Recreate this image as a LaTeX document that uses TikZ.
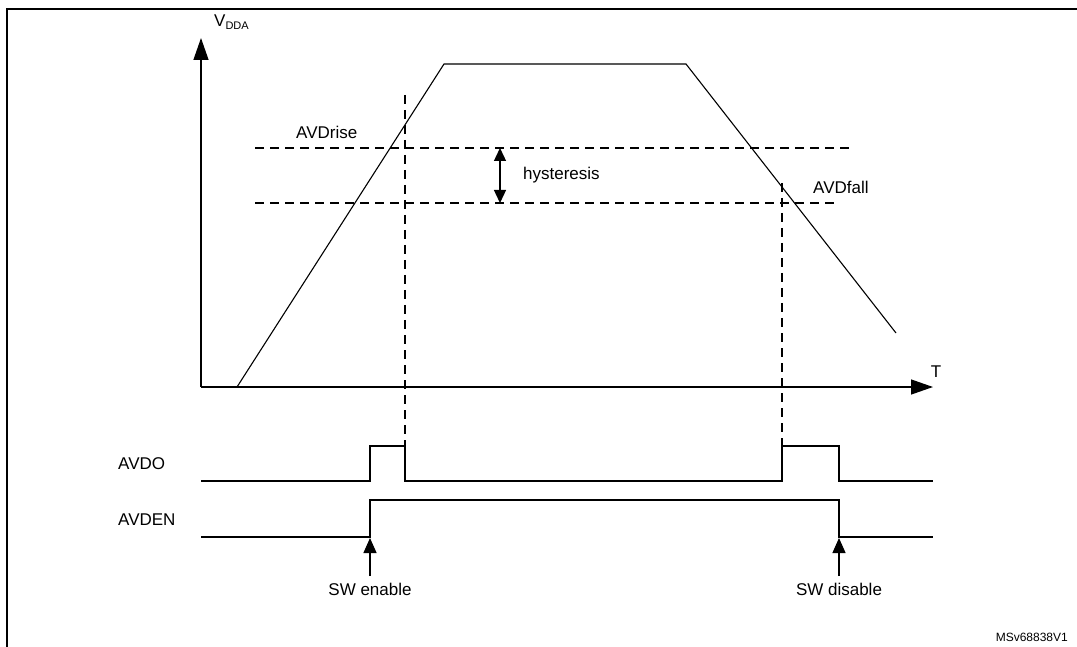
\documentclass[tikz,border=0pt]{standalone}
\usepackage{fontspec}
\setmainfont{Liberation Sans}
\usetikzlibrary{arrows.meta}
\tikzset{
  sig/.style={line width=1.3pt},
  level/.style={dashed, dash pattern=on 9pt off 6pt, line width=1.1pt},
  lbl/.style={font=\fontsize{17}{20}\selectfont, inner sep=0pt},
  tip/.style={-{Triangle[length=22pt,width=15pt]}, line width=1.3pt}
}
\begin{document}
\begin{tikzpicture}[x=1pt,y=-1pt]
    \useasboundingbox (0,0) rectangle (1077,647);
    % Frame
    \draw[line width=1.6pt] (7,700) -- (7,9) -- (1080,9);

    % Axes
    \coordinate (o) at (201,387);
    \coordinate (ytop) at (201,38);
    \coordinate (xend) at (933,387);
    \draw[tip] (o) -- (ytop);
    \draw[tip] (o) -- (xend);
    \node[lbl, anchor=west] (vdda) at (214,22) {V\textsubscript{\fontsize{11}{12}\selectfont DDA}};
    \node[lbl, anchor=south] (t) at (936,378) {T};

    % Supply ramp
    \draw[line width=1.1pt] (237,387) -- (444,64) -- (686,64) -- (896,333);

    % Thresholds
    \draw[level] (255,148) -- (850,148);
    \draw[level] (255,203) -- (835,203);
    \node[lbl, anchor=south west] (rise) at (296,139) {AVDrise};
    \node[lbl, anchor=south west] (fall) at (813,194) {AVDfall};
    \coordinate (h1) at (500,148);
    \coordinate (h2) at (500,203);
    \draw[{Triangle[length=13pt,width=12pt]}-{Triangle[length=13pt,width=12pt]}, line width=1.3pt] (h1) -- (h2);
    \node[lbl, anchor=west] (hyst) at (523,175) {hysteresis};

    % Event markers
    \draw[level] (405,95) -- (405,446);
    \draw[level] (782,183) -- (782,446);

    % AVDO
    \node[lbl, anchor=west] (avdo) at (118,464) {AVDO};
    \draw[sig] (201,481) -- (370,481) -- (370,446) -- (405,446) -- (405,481)
        -- (782,481) -- (782,446) -- (839,446) -- (839,481) -- (933,481);

    % AVDEN
    \node[lbl, anchor=west] (avden) at (118,520) {AVDEN};
    \draw[sig] (201,537) -- (370,537) -- (370,500) -- (839,500) -- (839,537) -- (933,537);

    % SW events
    \coordinate (en) at (370,576);
    \coordinate (dis) at (839,576);
    \draw[-{Triangle[length=15pt,width=13pt]}, line width=1.3pt] (en) -- (370,538);
    \draw[-{Triangle[length=15pt,width=13pt]}, line width=1.3pt] (dis) -- (839,538);
    \node[lbl, anchor=north] (swen) at (370,583) {SW enable};
    \node[lbl, anchor=north] (swdis) at (839,583) {SW disable};

    \node[anchor=south east, inner sep=0pt, font=\fontsize{12}{14}\selectfont] (ref) at (1068,642) {MSv68838V1};
\end{tikzpicture}
\end{document}
